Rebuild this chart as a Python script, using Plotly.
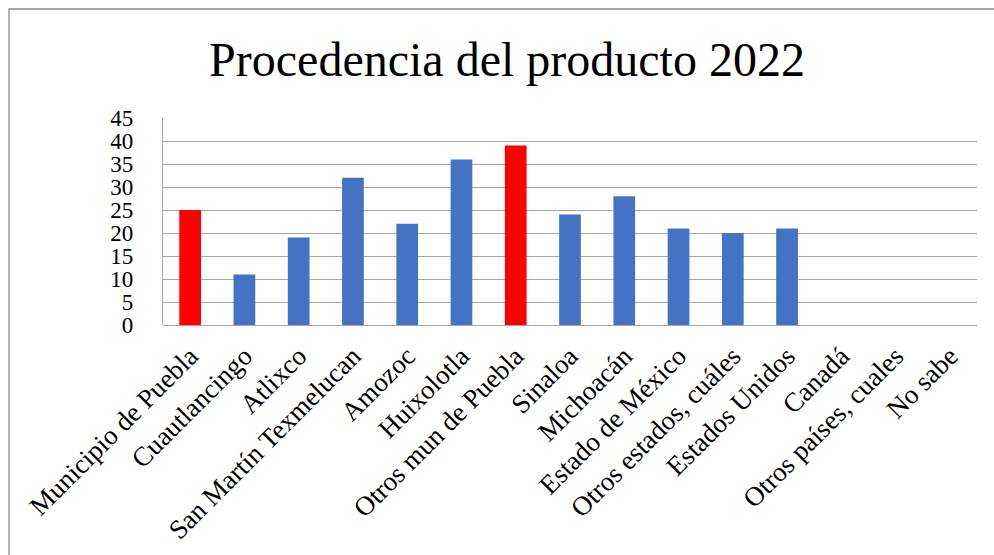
import plotly.graph_objects as go

# Origen del producto, número de menciones
categorias = [
    "Municipio de Puebla", "Cuautlancingo", "Atlixco", "San Martín Texmelucan",
    "Amozoc", "Huixolotla", "Otros mun de Puebla", "Sinaloa", "Michoacán",
    "Estado de México", "Otros estados, cuáles", "Estados Unidos", "Canadá",
    "Otros países, cuales", "No sabe",
]
valores = [25, 11, 19, 32, 22, 36, 39, 24, 28, 21, 20, 21, 0, 0, 0]
destacados = {"Municipio de Puebla", "Otros mun de Puebla"}
ticks_y = [0, 5, 10, 15, 20, 25, 30, 35, 40, 45]

AZUL = "#4472C4"
ROJO = "#FF0000"
colores = [ROJO if c in destacados else AZUL for c in categorias]

W, H = 994, 555
ML, MR, MT, MB = 163, 17, 118, 230
FUENTE = "Liberation Serif, Times New Roman, serif"

fig = go.Figure(
    go.Bar(x=categorias, y=valores, marker=dict(color=colores, line=dict(width=0)))
)

# marco exterior del gráfico, en coordenadas de papel
pw, ph = W - ML - MR, H - MT - MB
def px_x(v):
    return (v - ML) / pw
def px_y(v):
    return (H - MB - v) / ph

fig.add_shape(
    type="rect", xref="paper", yref="paper",
    x0=px_x(9), x1=px_x(1000), y0=px_y(560), y1=px_y(9),
    line=dict(color="#8c8c8c", width=1.3), fillcolor="rgba(0,0,0,0)", layer="below",
)

fig.update_layout(
    width=W, height=H,
    margin=dict(l=ML, r=MR, t=MT, b=MB, autoexpand=False),
    paper_bgcolor="white", plot_bgcolor="white",
    bargap=0.6,
    showlegend=False,
    font=dict(family=FUENTE, color="black"),
    title=dict(
        text="Procedencia del producto 2022",
        font=dict(family=FUENTE, size=48, color="black"),
        x=507 / W, xanchor="center",
        y=1 - 59 / H, yanchor="middle", yref="container",
    ),
    xaxis=dict(
        tickangle=-45, automargin=False,
        tickfont=dict(family=FUENTE, size=27, color="black"),
        showgrid=False, showline=False, zeroline=False, ticks="",
        ticklabelstandoff=9,
    ),
    yaxis=dict(
        range=[0, 45], tickvals=ticks_y, automargin=False,
        tickfont=dict(family=FUENTE, size=23, color="black"),
        showgrid=True, gridcolor="#a6a6a6", gridwidth=1.3,
        showline=True, linecolor="#a6a6a6", linewidth=1.3,
        zeroline=True, zerolinecolor="#a6a6a6", zerolinewidth=1.3,
        ticks="", ticklabelstandoff=24,
    ),
)

fig.write_html("out.html")
